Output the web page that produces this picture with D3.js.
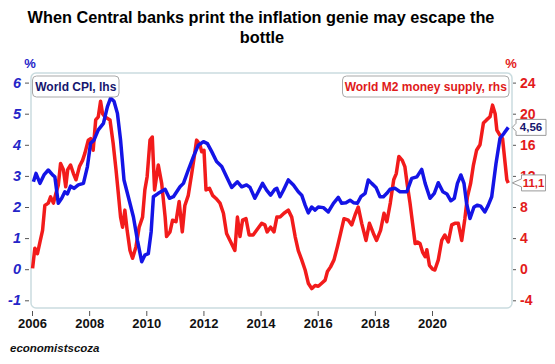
<!DOCTYPE html>
<html>
<head>
<meta charset="utf-8">
<script src="https://cdn.jsdelivr.net/npm/d3@7"></script>
<style>
html,body{margin:0;padding:0;background:#fff;}
svg{display:block;font-family:"Liberation Sans",Arial,sans-serif;}
</style>
</head>
<body>
<svg id="chart" width="555" height="364"></svg>
<script>
// ---- data (decimal years as placed on the chart's axis) ----
const cpiYears = [2006.05,2006.14,2006.28,2006.42,2006.57,2006.72,2006.80,2006.92,2007.04,2007.15,2007.24,2007.35,2007.47,2007.62,2007.80,2007.94,2008.05,2008.17,2008.32,2008.50,2008.64,2008.75,2008.87,2008.99,2009.10,2009.22,2009.37,2009.55,2009.69,2009.84,2009.95,2010.07,2010.17,2010.25,2010.42,2010.66,2010.81,2010.95,2011.18,2011.30,2011.47,2011.65,2011.82,2012.00,2012.14,2012.29,2012.46,2012.64,2012.81,2012.99,2013.19,2013.34,2013.51,2013.63,2013.80,2013.92,2014.07,2014.21,2014.35,2014.50,2014.57,2014.68,2014.80,2014.97,2015.15,2015.32,2015.44,2015.56,2015.67,2015.79,2015.91,2016.02,2016.20,2016.37,2016.55,2016.72,2016.84,2016.99,2017.13,2017.25,2017.39,2017.51,2017.66,2017.77,2017.89,2018.04,2018.18,2018.30,2018.42,2018.53,2018.71,2018.88,2019.12,2019.29,2019.47,2019.64,2019.76,2019.93,2020.08,2020.22,2020.38,2020.52,2020.66,2020.78,2020.89,2021.01,2021.12,2021.21,2021.33,2021.47,2021.59,2021.70,2021.85,2021.97,2022.09,2022.24,2022.38,2022.52,2022.67];
const cpiValues = [2.81,3.08,2.76,3.03,3.19,3.03,2.97,2.12,2.28,2.49,2.42,2.67,2.60,2.71,2.76,3.30,4.05,4.15,4.48,4.69,5.23,5.50,5.40,5.01,4.15,2.87,2.33,1.68,0.93,0.24,0.45,0.50,1.20,2.33,2.44,2.57,2.28,2.33,2.65,2.76,3.19,3.62,3.99,4.10,4.04,3.78,3.46,3.30,2.97,2.63,2.81,2.65,2.71,2.63,2.28,2.49,2.76,2.54,2.38,2.57,2.60,2.33,2.54,2.87,2.71,2.49,2.38,2.06,1.81,2.00,1.90,2.00,1.98,1.84,2.12,2.31,2.12,2.14,2.22,2.14,2.12,2.33,2.44,2.87,2.76,2.63,2.33,2.33,2.44,2.57,2.60,2.49,2.49,2.92,2.97,3.21,2.76,2.28,2.44,2.78,2.49,2.42,2.20,2.28,2.76,3.03,2.76,2.12,1.63,2.00,2.06,2.03,1.84,2.06,2.33,3.40,4.21,4.37,4.56];

const m2Years = [2006.02,2006.10,2006.19,2006.28,2006.37,2006.45,2006.57,2006.65,2006.75,2006.84,2006.92,2007.00,2007.10,2007.18,2007.25,2007.35,2007.45,2007.54,2007.66,2007.77,2007.85,2007.97,2008.05,2008.14,2008.23,2008.32,2008.40,2008.47,2008.55,2008.73,2008.84,2008.94,2009.02,2009.10,2009.17,2009.25,2009.33,2009.43,2009.52,2009.64,2009.75,2009.87,2009.95,2010.03,2010.13,2010.21,2010.29,2010.42,2010.54,2010.66,2010.71,2010.83,2010.92,2011.04,2011.15,2011.26,2011.35,2011.47,2011.59,2011.68,2011.76,2011.88,2011.94,2012.02,2012.09,2012.21,2012.32,2012.44,2012.58,2012.70,2012.81,2012.93,2013.10,2013.19,2013.28,2013.37,2013.49,2013.60,2013.74,2013.86,2014.04,2014.15,2014.23,2014.35,2014.47,2014.57,2014.68,2014.82,2014.97,2015.09,2015.21,2015.32,2015.44,2015.56,2015.67,2015.79,2015.91,2016.02,2016.14,2016.26,2016.34,2016.45,2016.57,2016.69,2016.80,2016.92,2017.07,2017.19,2017.31,2017.42,2017.54,2017.69,2017.81,2017.95,2018.06,2018.20,2018.32,2018.42,2018.54,2018.66,2018.75,2018.84,2018.96,2019.05,2019.13,2019.23,2019.32,2019.41,2019.49,2019.58,2019.67,2019.76,2019.82,2019.91,2020.02,2020.10,2020.22,2020.34,2020.45,2020.57,2020.69,2020.80,2020.92,2021.04,2021.15,2021.24,2021.35,2021.45,2021.56,2021.68,2021.80,2021.91,2022.03,2022.12,2022.21,2022.27,2022.38,2022.47,2022.56,2022.62,2022.67];
const m2Values = [0.1,2.7,2.0,3.5,5.0,8.2,8.5,9.3,8.5,9.8,10.8,13.6,12.8,10.6,12.8,13.4,12.3,11.5,13.2,14.0,14.9,16.6,16.8,15.3,19.2,19.6,21.6,20.0,19.6,19.2,16.2,12.8,9.8,6.7,5.4,7.6,5.0,2.4,1.4,2.9,5.4,6.7,10.2,11.9,16.6,17.0,10.2,13.4,11.0,6.7,4.2,4.8,6.3,6.1,8.7,4.8,8.2,9.5,12.3,14.5,16.6,16.0,15.1,15.3,10.2,10.4,9.5,9.1,8.5,7.2,4.6,3.7,2.4,6.7,4.2,6.3,6.5,4.4,4.4,5.0,5.9,5.7,4.8,5.4,4.8,6.7,6.7,7.2,7.6,6.7,4.2,2.4,1.2,-0.1,-1.8,-2.5,-2.1,-2.2,-1.8,-1.4,-0.3,0.3,1.2,2.9,4.6,6.5,6.3,5.7,7.0,8.0,5.9,3.7,5.9,4.6,3.7,5.0,7.2,6.1,8.5,11.5,12.3,14.5,14.0,13.2,11.0,8.5,5.9,3.3,3.5,3.3,2.2,1.6,2.5,0.5,0.0,-0.1,1.2,3.7,4.4,3.5,5.7,5.9,5.9,3.7,6.5,9.3,11.0,13.4,15.3,16.0,18.8,19.2,19.6,21.1,20.0,17.9,17.2,16.8,13.6,11.5,11.1];

const xTicks = [2006,2008,2010,2012,2014,2016,2018,2020];
const leftTicks = [-1,0,1,2,3,4,5,6];
const rightTicks = [-4,0,4,8,12,16,20,24];
const labels = {
  title1: "When Central banks print the inflation genie may escape the",
  title2: "bottle",
  cpi: "World CPI, lhs",
  m2: "World M2 money supply, rhs",
  cpiLast: "4,56",
  m2Last: "11,1",
  source: "economistscoza"
};

// ---- styling ----
const BLUE = "#1414e6", RED = "#f21b1b", NAVY = "#16166e";
const AXBLUE = "#2525c8", AXRED = "#e31b1b";

const svg = d3.select("#chart");
const x = d3.scaleLinear().domain([2006, 2020]).range([32, 432]);
const yL = d3.scaleLinear().domain([-1, 6]).range([300.3, 82.6]);
const yR = d3.scaleLinear().domain([-4, 24]).range([300.3, 82.6]);
const fmt = d => String(d);

// title
svg.append("text").attr("x", 261).attr("y", 22.5).attr("text-anchor", "middle")
  .attr("font-size", 16.3).attr("font-weight", "bold").attr("fill", "#000").text(labels.title1);
svg.append("text").attr("x", 262).attr("y", 42.5).attr("text-anchor", "middle")
  .attr("font-size", 16.3).attr("font-weight", "bold").attr("fill", "#000").text(labels.title2);

// frame
svg.append("rect").attr("x", 31).attr("y", 73).attr("width", 481).attr("height", 235)
  .attr("rx", 5).attr("fill", "#fff").attr("stroke", "#cadcdf").attr("stroke-width", 1.5);

// % labels
svg.append("text").attr("x", 30).attr("y", 68).attr("text-anchor", "middle")
  .attr("font-size", 13).attr("font-weight", "bold").attr("fill", AXBLUE).text("%");
svg.append("text").attr("x", 511).attr("y", 68).attr("text-anchor", "middle")
  .attr("font-size", 13).attr("font-weight", "bold").attr("fill", AXRED).text("%");

// left axis
const gL = svg.append("g").attr("transform", "translate(29,0)")
  .call(d3.axisLeft(yL).tickValues(leftTicks).tickSize(4).tickPadding(4).tickFormat(fmt));
gL.select(".domain").remove();
gL.selectAll("line").attr("stroke", "#555");
gL.selectAll("text").attr("font-size", 14.5).attr("font-weight", "bold").attr("font-style", "italic")
  .attr("fill", AXBLUE).attr("font-family", "'Liberation Sans',Arial,sans-serif");

// right axis
const gR = svg.append("g").attr("transform", "translate(513,0)")
  .call(d3.axisRight(yR).tickValues(rightTicks).tickSize(3).tickPadding(4).tickFormat(fmt));
gR.select(".domain").remove();
gR.selectAll("line").attr("stroke", "#555");
gR.selectAll("text").attr("font-size", 14).attr("font-weight", "bold")
  .attr("fill", AXRED).attr("font-family", "'Liberation Sans',Arial,sans-serif");

// x axis
const gX = svg.append("g").attr("transform", "translate(0,311)")
  .call(d3.axisBottom(x).tickValues(xTicks).tickSize(5).tickPadding(3).tickFormat(fmt));
gX.select(".domain").remove();
gX.selectAll("line").attr("stroke", "#555");
gX.selectAll("text").attr("font-size", 13).attr("font-weight", "bold")
  .attr("fill", "#111").attr("font-family", "'Liberation Sans',Arial,sans-serif");

// lines
const m2Data = m2Years.map((d, i) => [d, m2Values[i]]);
const cpiData = cpiYears.map((d, i) => [d, cpiValues[i]]);
svg.append("path").datum(m2Data)
  .attr("d", d3.line().x(d => x(d[0])).y(d => yR(d[1])))
  .attr("fill", "none").attr("stroke", RED).attr("stroke-width", 3.5).attr("stroke-linejoin", "round");
svg.append("path").datum(cpiData)
  .attr("d", d3.line().x(d => x(d[0])).y(d => yL(d[1])))
  .attr("fill", "none").attr("stroke", BLUE).attr("stroke-width", 3.5).attr("stroke-linejoin", "round");

// legend boxes
function legendBox(x0, y0, w, h, txt, color) {
  svg.append("rect").attr("x", x0).attr("y", y0).attr("width", w).attr("height", h)
    .attr("rx", 4).attr("fill", "#fff").attr("stroke", "#a9a9a9").attr("stroke-width", 1);
  svg.append("text").attr("x", x0 + w / 2).attr("y", y0 + h / 2 + 4.3).attr("text-anchor", "middle")
    .attr("font-size", 12).attr("font-weight", "bold").attr("fill", color).text(txt);
}
legendBox(32.5, 76, 86.5, 21, labels.cpi, NAVY);
legendBox(342.5, 76, 166.5, 21, labels.m2, "#e01a1a");

// end-value callouts
function callout(tipX, tipY, bx, bw, txt, color) {
  const h = 16, top = tipY - h / 2;
  const p = `M${tipX},${tipY} L${bx},${tipY - 4} V${top} H${bx + bw} V${top + h} H${bx} V${tipY + 4} Z`;
  svg.append("path").attr("d", p).attr("fill", "#fff").attr("stroke", "#9a9a9a").attr("stroke-width", 1);
  svg.append("text").attr("x", bx + bw / 2).attr("y", tipY + 4).attr("text-anchor", "middle")
    .attr("font-size", 11.5).attr("font-weight", "bold").attr("fill", color).text(txt);
}
const lastC = cpiData[cpiData.length - 1], lastM = m2Data[m2Data.length - 1];
callout(x(lastC[0]) + 4, yL(lastC[1]), 516, 30, labels.cpiLast, NAVY);
callout(x(lastM[0]) + 4, yR(lastM[1]), 521.5, 24, labels.m2Last, "#e01a1a");

// source
svg.append("text").attr("x", 10).attr("y", 352).attr("font-size", 11.5)
  .attr("font-weight", "bold").attr("font-style", "italic").attr("fill", "#111").text(labels.source);
</script>
</body>
</html>
